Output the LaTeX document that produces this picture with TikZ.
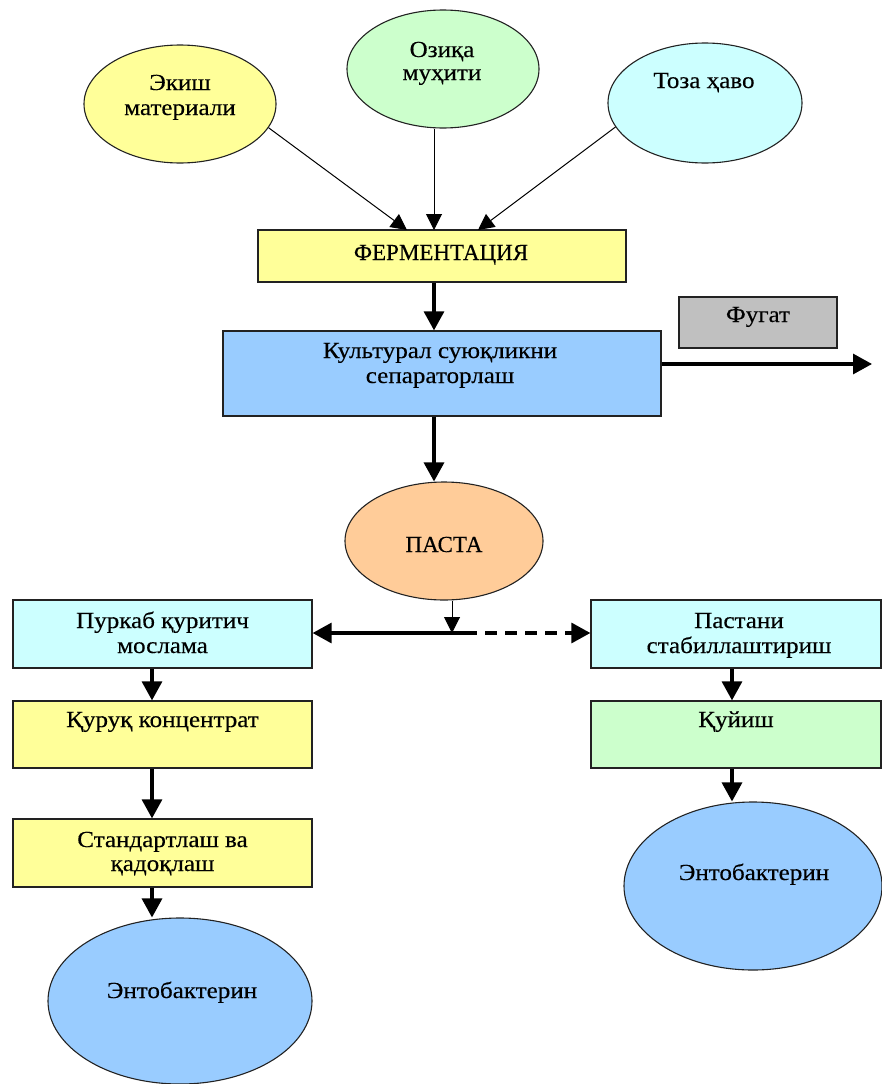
\documentclass[tikz,border=0pt]{standalone}
\usepackage{fontspec}
\setmainfont{Liberation Serif}[FakeStretch=1.09,FakeBold=0.35]
\newfontfamily\capsfont{Liberation Serif}[FakeBold=0.35]
\usetikzlibrary{arrows.meta,shapes.geometric}
\definecolor{fillyellow}{HTML}{FFFF99}
\definecolor{fillgreen}{HTML}{CCFFCC}
\definecolor{fillcyan}{HTML}{CCFFFF}
\definecolor{fillblue}{HTML}{99CCFF}
\definecolor{fillgray}{HTML}{C0C0C0}
\definecolor{fillorange}{HTML}{FFCC99}
\definecolor{edgecol}{HTML}{222222}
\begin{document}
\begin{tikzpicture}[x=1pt,y=-1pt,
  box/.style={rectangle, draw=edgecol, line width=1.3pt, inner sep=0pt},
  oval/.style={ellipse, draw=edgecol, line width=1.1pt, inner sep=0pt},
  txt/.style={font=\fontsize{23}{27}\selectfont, inner sep=0pt, anchor=base},
  capstxt/.style={font=\capsfont\fontsize{23}{27}\selectfont, inner sep=0pt, anchor=base},
  thinarrow/.style={line width=1pt, -{Triangle[length=16pt,width=16pt]}},
  thickarrow/.style={line width=3.2pt, -{Triangle[length=19pt,width=20pt]}},
  dashedarrow/.style={thickarrow, dash pattern=on 12pt off 8pt},
]
\useasboundingbox (0,0) rectangle (882,1084);

% inputs
\node[oval, fill=fillyellow, minimum width=192pt, minimum height=118pt] (ekish) at (180,104) {};
\node[oval, fill=fillgreen, minimum width=192pt, minimum height=118pt] (ozika) at (443,69) {};
\node[oval, fill=fillcyan, minimum width=194pt, minimum height=120pt] (toza) at (705,103) {};
\node[txt] (t-ekish1) at (180,90) {Экиш};
\node[txt] (t-ekish2) at (180,115) {материали};
\node[txt] (t-ozika1) at (442,57) {Озиқа};
\node[txt] (t-ozika2) at (442,80) {муҳити};
\node[txt] (t-toza) at (704,88) {Тоза ҳаво};

% fermentation and separation
\node[box, fill=fillyellow, minimum width=368pt, minimum height=52pt] (ferm) at (442,256) {};
\node[capstxt] (t-ferm) at (441,260) {ФЕРМЕНТАЦИЯ};
\node[box, fill=fillblue, minimum width=438pt, minimum height=85pt] (kult) at (442,373.5) {};
\node[txt] (t-kult1) at (440,358) {Культурал суюқликни};
\node[txt] (t-kult2) at (440,383) {сепараторлаш};
\node[box, fill=fillgray, minimum width=158pt, minimum height=51pt] (fugat) at (758,322.5) {};
\node[txt] (t-fugat) at (758,322) {Фугат};

% paste
\node[oval, fill=fillorange, minimum width=198pt, minimum height=118pt] (pasta) at (444,541) {};
\node[capstxt] (t-pasta) at (444,552) {ПАСТА};

% left branch
\node[box, fill=fillcyan, minimum width=299pt, minimum height=68pt] (purkab) at (162.5,634) {};
\node[txt] (t-purkab1) at (162.5,628) {Пуркаб қуритич};
\node[txt] (t-purkab2) at (162.5,653) {мослама};
\node[box, fill=fillyellow, minimum width=299pt, minimum height=67pt] (quruq) at (162.5,734.5) {};
\node[txt] (t-quruq) at (162.5,727) {Қуруқ концентрат};
\node[box, fill=fillyellow, minimum width=299pt, minimum height=68pt] (stand) at (162.5,853) {};
\node[txt] (t-stand1) at (162.5,847) {Стандартлаш ва};
\node[txt] (t-stand2) at (162.5,871) {қадоқлаш};
\node[oval, fill=fillblue, minimum width=264pt, minimum height=166pt] (entoL) at (180,1001) {};
\node[txt] (t-entoL) at (182,998) {Энтобактерин};

% right branch
\node[box, fill=fillcyan, minimum width=290pt, minimum height=68pt] (pastani) at (736,634) {};
\node[txt] (t-pastani1) at (739,628) {Пастани};
\node[txt] (t-pastani2) at (739,653) {стабиллаштириш};
\node[box, fill=fillgreen, minimum width=290pt, minimum height=67pt] (quyish) at (736,734.5) {};
\node[txt] (t-quyish) at (736,727) {Қуйиш};
\node[oval, fill=fillblue, minimum width=258pt, minimum height=168pt] (entoR) at (753,886) {};
\node[txt] (t-entoR) at (754,880) {Энтобактерин};

% connector points
\coordinate (fa) at (407,230);
\coordinate (fb) at (434,230);
\coordinate (fc) at (478,230);
\coordinate (fout) at (872,364);
\coordinate (jn) at (452,633);
\coordinate (split) at (465,633);
\coordinate (lc) at (152,0);
\coordinate (rc) at (732,0);

% connectors
\draw[thinarrow] (ekish.-15) -- (fa);
\draw[thinarrow] (ozika.south -| fb) -- (fb);
\draw[thinarrow] (toza.195) -- (fc);
\draw[thickarrow] (ferm.south -| fb) -- (kult.north -| fb);
\draw[thickarrow] (kult.east |- fout) -- (fout);
\draw[thickarrow] (kult.south -| fb) -- (pasta.north -| fb);
\draw[thinarrow] (pasta.south -| jn) -- (jn);
\draw[thickarrow] (split) -- (purkab.east |- split);
\draw[dashedarrow] (split) -- (pastani.west |- split);
\draw[thickarrow] (purkab.south -| lc) -- (quruq.north -| lc);
\draw[thickarrow] (quruq.south -| lc) -- (stand.north -| lc);
\draw[thickarrow] (stand.south -| lc) -- (entoL.north -| lc);
\draw[thickarrow] (pastani.south -| rc) -- (quyish.north -| rc);
\draw[thickarrow] (quyish.south -| rc) -- (entoR.north -| rc);
\end{tikzpicture}
\end{document}
